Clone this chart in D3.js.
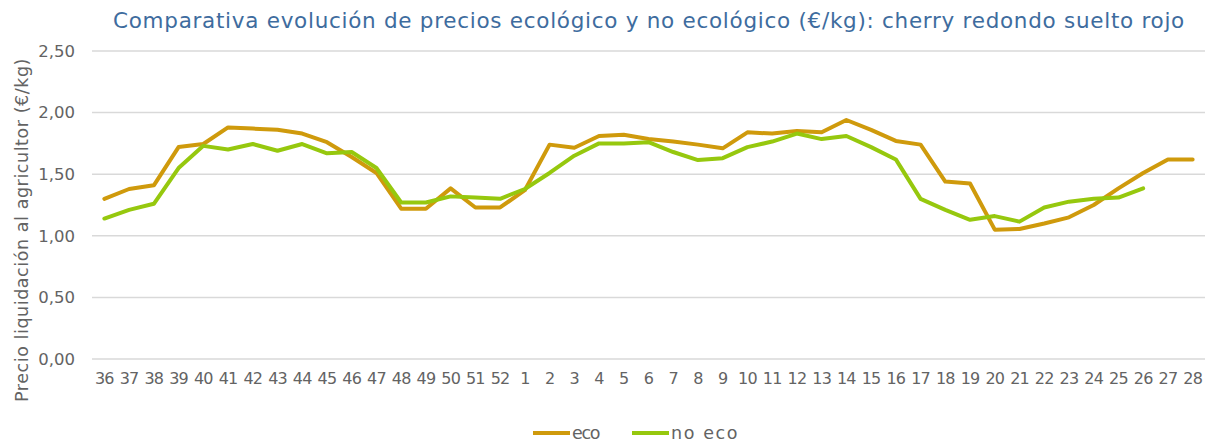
<!DOCTYPE html>
<html>
<head>
<meta charset="utf-8">
<script src="https://cdn.jsdelivr.net/npm/d3@7"></script>
<style>
  html, body { margin: 0; padding: 0; background: #fff; }
  svg { display: block; font-family: "DejaVu Sans", sans-serif; }
</style>
</head>
<body>
<svg id="chart" width="1206" height="443"></svg>
<script>
// data
const weeks = ["36","37","38","39","40","41","42","43","44","45","46","47","48","49","50","51","52",
  "1","2","3","4","5","6","7","8","9","10","11","12","13","14","15","16","17","18","19","20",
  "21","22","23","24","25","26","27","28"];
const eco = [1.30,1.38,1.41,1.72,1.745,1.88,1.87,1.86,1.83,1.76,1.64,1.51,1.22,1.22,1.385,1.23,1.23,
  1.37,1.74,1.715,1.81,1.82,1.785,1.765,1.74,1.71,1.84,1.83,1.85,1.84,1.94,1.86,1.77,1.74,1.44,1.425,1.05,
  1.055,1.10,1.15,1.25,1.385,1.51,1.62,1.62];
const noEco = [1.14,1.21,1.26,1.55,1.73,1.70,1.745,1.69,1.745,1.67,1.68,1.55,1.27,1.27,1.32,1.31,1.30,
  1.38,1.51,1.65,1.75,1.75,1.76,1.68,1.615,1.63,1.72,1.765,1.83,1.785,1.81,1.72,1.62,1.30,1.21,1.13,1.16,
  1.115,1.23,1.277,1.30,1.31,1.385,null,null];
const yTicks = [0, 0.5, 1, 1.5, 2, 2.5];
const seriesNames = ["eco", "no eco"];
const seriesColors = ["#CF9A0C", "#96C80E"];

const svg = d3.select("#chart");
const fmt = v => d3.format(".2f")(v).replace(".", ",");

// stretch a text to a wanted width with letter-spacing (the original font is wider)
function fitWidth(sel, width) {
  sel.each(function () {
    const n = this.textContent.length;
    const w = this.getComputedTextLength();
    d3.select(this).attr("letter-spacing", (width - w) / n);
  });
}

const x = d3.scaleBand().domain(weeks).range([92, 1205]);
const y = d3.scaleLinear().domain([0, 2.5]).range([359, 51]);

// gridlines
svg.append("g")
  .selectAll("line")
  .data(yTicks)
  .join("line")
  .attr("x1", 92).attr("x2", 1205)
  .attr("y1", d => y(d)).attr("y2", d => y(d))
  .attr("stroke", "#d9d9d9").attr("stroke-width", 1.5);

// y axis labels
const yAxis = svg.append("g")
  .attr("transform", "translate(75,0)")
  .call(d3.axisLeft(y).tickValues(yTicks).tickFormat(fmt).tickSize(0).tickPadding(0));
yAxis.select(".domain").remove();
yAxis.selectAll("text")
  .attr("fill", "#636363").attr("font-size", 16.5)
  .attr("font-family", "DejaVu Sans, sans-serif");

// x axis labels
const xAxis = svg.append("g")
  .attr("transform", "translate(0,373)")
  .call(d3.axisBottom(x).tickSize(0).tickPadding(0));
xAxis.select(".domain").remove();
xAxis.selectAll("text")
  .attr("fill", "#636363").attr("font-size", 16)
  .attr("font-family", "DejaVu Sans, sans-serif")
  .attr("letter-spacing", -0.8)
  .attr("dy", "0.71em");

// lines
const line = d3.line()
  .defined(d => d != null)
  .x((d, i) => x(weeks[i]) + x.bandwidth() / 2)
  .y(d => y(d));

[eco, noEco].forEach((vals, k) => {
  svg.append("path")
    .datum(vals)
    .attr("fill", "none")
    .attr("stroke", seriesColors[k])
    .attr("stroke-width", 4)
    .attr("stroke-linejoin", "round")
    .attr("stroke-linecap", "round")
    .attr("d", line);
});

// title
svg.append("text")
  .attr("x", 649).attr("y", 28)
  .attr("text-anchor", "middle")
  .attr("fill", "#3E6C9E")
  .attr("font-size", 21.5)
  .text("Comparativa evolución de precios ecológico y no ecológico (€/kg): cherry redondo suelto rojo")
  .call(fitWidth, 1072);

// y title
svg.append("text")
  .attr("transform", "translate(28,230) rotate(-90)")
  .attr("text-anchor", "middle")
  .attr("fill", "#636363")
  .attr("font-size", 17.5)
  .text("Precio liquidación al agricultor (€/kg)")
  .call(fitWidth, 344);

// legend
const legendX = [533, 632];
const legendW = [27, 68];
const legend = svg.append("g");
seriesNames.forEach((name, k) => {
  legend.append("line")
    .attr("x1", legendX[k]).attr("x2", legendX[k] + 37)
    .attr("y1", 433).attr("y2", 433)
    .attr("stroke", seriesColors[k]).attr("stroke-width", 4);
  legend.append("text")
    .attr("x", legendX[k] + 39).attr("y", 439)
    .attr("fill", "#636363").attr("font-size", 17.5)
    .text(name)
    .call(fitWidth, legendW[k]);
});
</script>
</body>
</html>
